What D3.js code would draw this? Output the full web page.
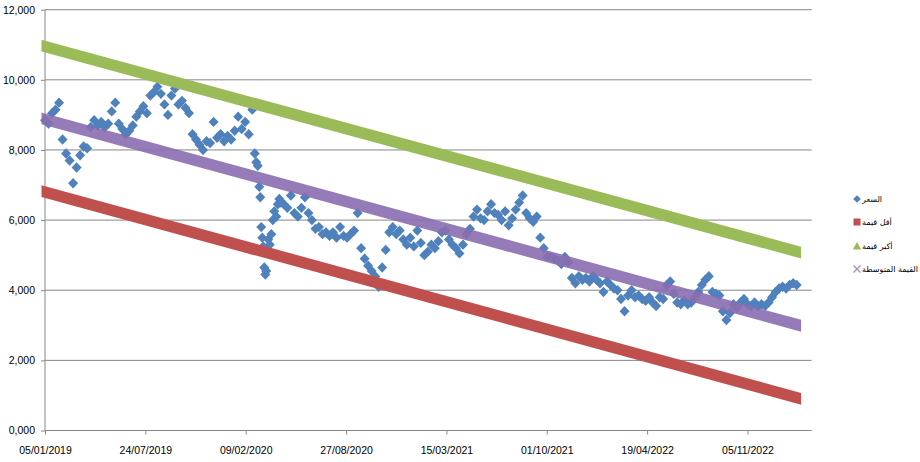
<!DOCTYPE html>
<html><head><meta charset="utf-8">
<script src="https://cdn.jsdelivr.net/npm/d3@7"></script>
<style>body{margin:0;background:#fff} svg{display:block}</style>
</head><body><svg id="c" width="920" height="462"></svg>
<script>
// ---------- data ----------
const xTickLabels = ["05/01/2019","24/07/2019","09/02/2020","27/08/2020","15/03/2021","01/10/2021","19/04/2022","05/11/2022"];
const yTicks = [0,2000,4000,6000,8000,10000,12000];
const yTickLabels = ["0,000","2,000","4,000","6,000","8,000","10,000","12,000"];
const axisStart = "05/01/2019";
const axisEnd = "13/03/2023";
const seriesNames = ["السعر","أقل قيمة","أكبر قيمة","القيمة المتوسطة"];
const seriesColors = ["#4F81BD","#C0504D","#9BBB59","#8064A2"];

// price series: days after 05/01/2019, value
const priceDays = [0,7,14,21,28,35,42,49,56,63,70,77,84,91,98,105,112,119,126,133,
 140,147,154,161,168,175,182,189,196,203,210,217,224,231,238,245,252,259,266,273,
 280,287,294,301,308,315,322,329,336,343,350,357,364,371,378,385,392,399,406,413,
 418,421,424,427,429,431,433,435,437,439,441,443,445,448,451,454,457,461,464,467,470,
 476,483,490,497,504,511,518,525,532,539,546,553,560,567,574,581,588,595,602,609,
 616,623,630,637,644,651,658,665,672,679,686,693,700,707,714,721,728,735,742,749,
 756,763,770,777,784,791,798,805,812,819,826,833,840,847,854,861,868,875,882,889,
 896,903,910,917,924,931,938,945,952,959,966,973,980,987,994,1001,1008,1015,1022,1029,
 1036,1043,1050,1057,1064,1071,1078,1085,1092,1099,1106,1113,1120,1127,1134,1141,1148,1155,1162,1169,
 1176,1183,1190,1197,1204,1211,1218,1225,1232,1239,1246,1253,1260,1267,1274,1281,1288,1295,1302,1309,
 1316,1323,1330,1337,1344,1351,1358,1365,1372,1379,1386,1393,1400,1407,1414,1421,1428,1435,1442,1449,
 1456,1463,1470,1477,1484,1491,1498];
const priceValues = [8850,8750,9050,9150,9350,8300,7900,7700,7050,7500,7850,8100,8050,8650,8850,8700,8800,8650,8750,9100,
 9350,8750,8600,8450,8550,8700,8950,9100,9250,9050,9550,9650,9800,9600,9300,9000,9550,9750,9300,9400,
 9200,9050,8450,8300,8150,8000,8250,8200,8800,8350,8450,8250,8400,8300,8550,8950,8600,8800,8450,9150,
 7900,7650,7550,6950,6650,5800,5500,5250,4650,4450,4550,5050,5450,5300,5600,6000,6250,6100,6450,6600,6500,
 6450,6350,6700,6200,6100,6350,6650,6200,6000,5750,5800,5600,5650,5550,5650,5500,5800,5550,5500,5600,
 5700,6200,5200,4900,4700,4550,4400,4100,4650,5150,5650,5800,5600,5700,5450,5300,5500,5250,5700,5350,
 5000,5100,5300,5200,5400,5650,5700,5450,5300,5200,5050,5300,5600,5750,6100,6300,6050,6000,6250,6450,
 6200,6150,6000,6250,5850,6050,6300,6500,6700,6200,6050,5950,6100,5500,5200,4950,4950,4900,4850,4750,
 4950,4800,4350,4200,4400,4300,4350,4250,4400,4300,4200,3950,4250,4150,4050,4000,3750,3400,3850,4000,
 3800,3850,3750,3700,3800,3650,3550,3800,3750,4150,4250,3900,3650,3600,3700,3600,3650,3800,3950,4150,
 4300,4400,3950,3900,3850,3400,3150,3350,3600,3500,3650,3750,3600,3550,3650,3550,3600,3550,3650,3800,
 3950,4050,4100,4050,4150,4200,4150];

// trend series (start / end)
const trendDates = ["05/01/2019","13/02/2023"];
const minValues = [6800, 930];
const maxValues = [10950, 5100];
const avgValues = [8875, 3015];

// ---------- drawing ----------
const parse = d3.utcParse("%d/%m/%Y");
const t0 = parse(axisStart);
const svg = d3.select("#c");
const L = 45, R = 811.7, T = 9.7, B = 430.5;
const x = d3.scaleUtc().domain([t0, parse(axisEnd)]).range([L, R]);
const y = d3.scaleLinear().domain([0, 12000]).range([B, T]);
const axisColor = "#868686";
const font = "'Liberation Sans', Arial, sans-serif";

// gridlines
svg.append("g").selectAll("line").data(yTicks.filter(v => v > 0)).join("line")
  .attr("x1", L).attr("x2", R).attr("y1", d => y(d)).attr("y2", d => y(d))
  .attr("stroke", axisColor).attr("stroke-width", 1);

// y axis
const yAxis = d3.axisLeft(y).tickValues(yTicks).tickSize(4).tickPadding(6)
  .tickFormat((d, i) => yTickLabels[i]);
const gy = svg.append("g").attr("transform", `translate(${L},0)`).call(yAxis);
gy.select(".domain").attr("stroke", axisColor).attr("d", `M-0,${B}V${T}`);
gy.selectAll(".tick line").attr("stroke", axisColor);
gy.selectAll(".tick text").attr("font-family", font).attr("font-size", 10.5).attr("fill", "#000");

// x axis
const xDates = xTickLabels.map(parse);
const xAxis = d3.axisBottom(x).tickValues(xDates).tickSize(4).tickPadding(12)
  .tickFormat((d, i) => xTickLabels[i]);
const gx = svg.append("g").attr("transform", `translate(0,${B})`).call(xAxis);
gx.select(".domain").attr("stroke", axisColor).attr("d", `M${L},0H${R}`);
gx.selectAll(".tick line").attr("stroke", axisColor);
gx.selectAll(".tick text").attr("font-family", font).attr("font-size", 10.5).attr("fill", "#000");

// price points (diamonds)
const dayMs = 864e5;
const price = priceDays.map((d, i) => ({ date: new Date(t0.getTime() + d * dayMs), v: priceValues[i] }));
const diamond = "M0,-5.2L5,0L0,5.2L-5,0Z";
svg.append("g").selectAll("path").data(price).join("path")
  .attr("d", diamond)
  .attr("transform", d => `translate(${x(d.date)},${y(d.v)})`)
  .attr("fill", seriesColors[0]);

// trend bands (dense markers appear as a solid band)
function band(vals, color, opacity) {
  const d0 = parse(trendDates[0]), d1 = parse(trendDates[1]);
  const x0 = x(d0), x1 = x(d1), y0 = y(vals[0]), y1 = y(vals[1]);
  const m = (y1 - y0) / (x1 - x0), pad = 3.5, h = 5.9;
  const xl = x0 - pad, yl = y0 - m * pad, xr = x1 + pad, yr = y1 + m * pad;
  svg.append("path")
    .attr("d", `M${xl},${yl - h}L${xr},${yr - h}L${xr},${yr + h}L${xl},${yl + h}Z`)
    .attr("fill", color).attr("fill-opacity", opacity);
}
band(minValues, seriesColors[1], 1);
band(maxValues, seriesColors[2], 1);
band(avgValues, "#8a6daf", 0.9);

// legend
const lg = svg.append("g");
const ly = [199, 222, 246, 269];
const mx = 857;
lg.append("path").attr("d", "M0,-3.8L3.8,0L0,3.8L-3.8,0Z").attr("transform", `translate(${mx},${ly[0]})`).attr("fill", seriesColors[0]);
lg.append("rect").attr("x", mx - 3.5).attr("y", ly[1] - 3.5).attr("width", 7).attr("height", 7).attr("fill", seriesColors[1]);
lg.append("path").attr("d", "M0,-4L4.2,3.5L-4.2,3.5Z").attr("transform", `translate(${mx},${ly[2]})`).attr("fill", seriesColors[2]);
lg.append("path").attr("d", "M-3.5,-3.5L3.5,3.5M3.5,-3.5L-3.5,3.5").attr("transform", `translate(${mx},${ly[3]})`).attr("stroke", "#9f8fbf").attr("stroke-width", 1.2);
lg.selectAll("text").data(seriesNames).join("text")
  .attr("x", 862).attr("y", (d, i) => ly[i]).attr("dy", "0.35em")
  .attr("font-family", "'DejaVu Sans', sans-serif").attr("font-size", 8)
  .attr("fill", "#000").attr("text-anchor", "start")
  .text(d => d);
</script></body></html>
